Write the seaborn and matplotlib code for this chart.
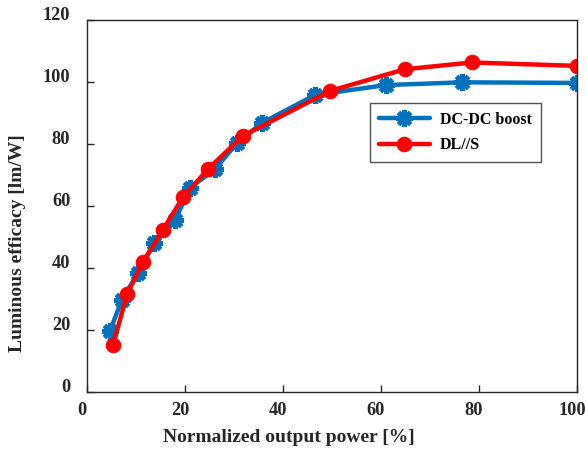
import matplotlib
matplotlib.use("Agg")
import matplotlib.pyplot as plt
import matplotlib.transforms as mtransforms
import seaborn as sns
import pandas as pd

boost_x = [4.7, 7.1, 10.4, 13.7, 18.0, 21.0, 26.1, 30.6, 35.7, 46.5, 61.0, 76.5, 100.0]
boost_y = [19.7, 29.7, 38.4, 48.1, 55.5, 65.8, 71.9, 80.3, 86.8, 95.8, 99.0, 99.9, 99.7]
dls_x = [5.3, 8.2, 11.4, 15.5, 19.6, 24.7, 31.8, 49.6, 64.8, 78.5, 100.0]
dls_y = [15.2, 31.6, 41.9, 52.3, 62.9, 71.9, 82.6, 97.1, 104.1, 106.3, 105.2]
x_ticks = [0, 20, 40, 60, 80, 100]
y_ticks = [0, 20, 40, 60, 80, 100, 120]

sns.set_theme(style="white")
plt.rcParams['font.family'] = ['Liberation Serif', 'DejaVu Serif']
plt.rcParams['font.weight'] = 'bold'

W, H = 586, 451
fig = plt.figure(figsize=(W/100, H/100), dpi=100)
ax = fig.add_axes([87/W, 1-392/H, 490/W, 372/H])

df_b = pd.DataFrame({"x": boost_x, "y": boost_y})
df_r = pd.DataFrame({"x": dls_x, "y": dls_y})

sns.lineplot(data=df_b, x="x", y="y", sort=False, ax=ax, color="#0072BD",
             linewidth=3.2, marker=(8, 2, 0), markersize=12, markeredgewidth=3.5,
             markeredgecolor="#0072BD", label="DC-DC boost")
sns.lineplot(data=df_r, x="x", y="y", sort=False, ax=ax, color="#FF0000",
             linewidth=3.2, marker="o", markersize=10.5, markeredgecolor="#FF0000",
             label="DL//S")

ax.set_xlim(0, 100)
ax.set_ylim(0, 120)
ax.set_xticks(x_ticks)
ax.set_yticks(y_ticks)
ax.tick_params(direction="in", length=5, width=1, colors="#262626",
               labelsize=13.2, pad=7, top=False, right=False, bottom=True, left=True)
ax.tick_params(axis='y', pad=12)
for lab in ax.get_xticklabels() + ax.get_yticklabels():
    lab.set_fontweight("bold")
    lab.set_color("#262626")
offy = mtransforms.ScaledTranslation(0, 6/100, fig.dpi_scale_trans)
for lab in ax.get_yticklabels():
    lab.set_transform(lab.get_transform() + offy)
offx = mtransforms.ScaledTranslation(-5/100, 0, fig.dpi_scale_trans)
for lab in ax.get_xticklabels():
    lab.set_transform(lab.get_transform() + offx)

for s in ax.spines.values():
    s.set_color("#262626")
    s.set_linewidth(1.0)

ax.set_xlabel("Normalized output power [%]", fontsize=14, fontweight="bold", color="#262626")
ax.set_ylabel("Luminous efficacy [lm/W]", fontsize=14, fontweight="bold", color="#262626")
ax.xaxis.set_label_coords((289-87)/490, -(438-392)/372)
ax.yaxis.set_label_coords(-(87-18)/490, (392-243)/372)
ax.xaxis.label.set_va("center")
ax.yaxis.label.set_va("center")

leg = ax.legend(loc="upper left", bbox_to_anchor=((370-87)/490, (392-103)/372),
                frameon=True, fancybox=False, fontsize=11.5, handlelength=3.2,
                borderpad=0.55, labelspacing=0.6, handletextpad=0.63, borderaxespad=0)
leg.get_frame().set_edgecolor("#262626")
leg.get_frame().set_linewidth(1.0)
for t in leg.get_texts():
    t.set_fontweight("bold")
    t.set_color("#000000")

fig.savefig("out.png", dpi=100)
